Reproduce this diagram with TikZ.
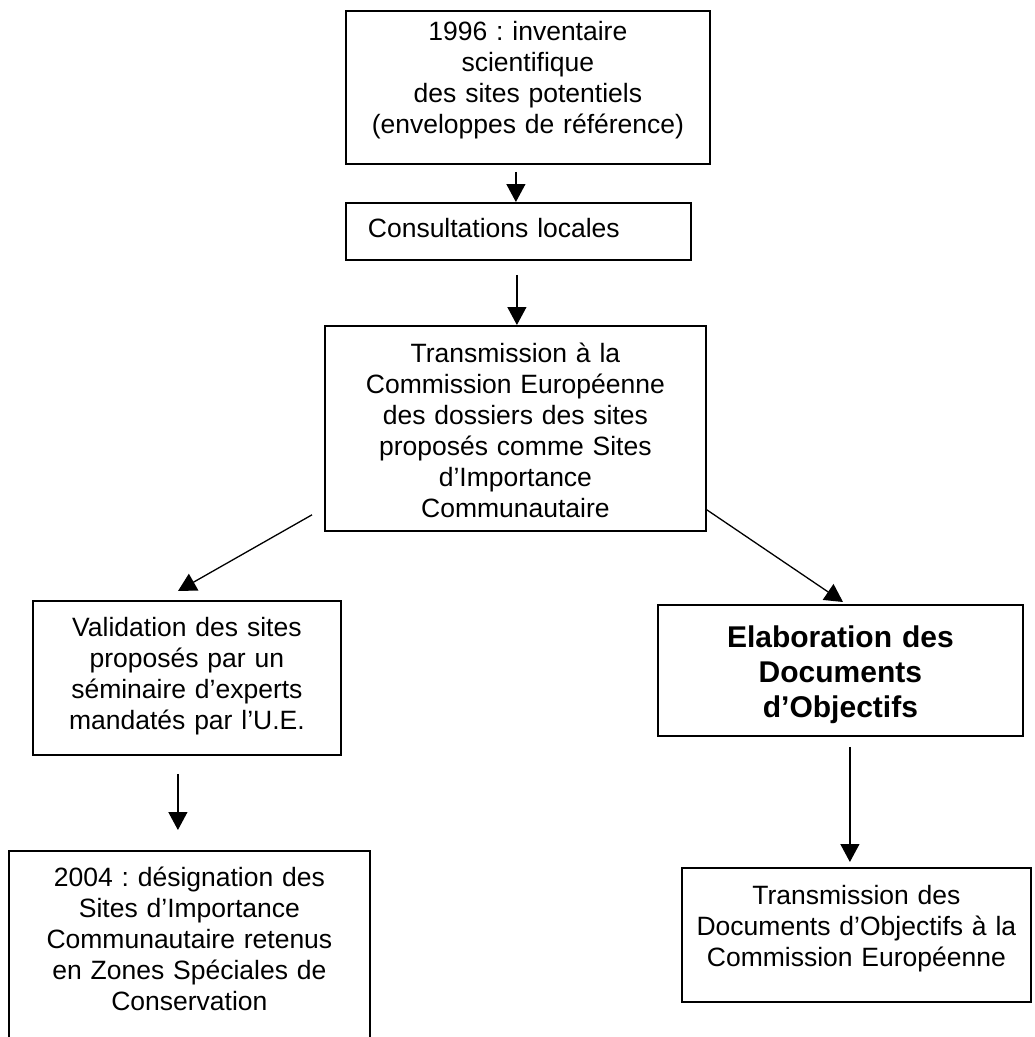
\documentclass[tikz,border=0pt]{standalone}
\usepackage{fontspec}
\setmainfont{Liberation Sans}
\usetikzlibrary{arrows.meta,calc}
\frenchspacing
\begin{document}
\begin{tikzpicture}[x=1pt,y=-1pt,
  box/.style={draw, line width=1.8pt, inner sep=0pt, anchor=north west, align=center,
    font=\fontsize{26.5}{31}\selectfont},
  boldbox/.style={box, font=\fontsize{30}{35}\selectfont\bfseries},
  arr/.style={line width=1.3pt, -{Triangle[length=18pt,width=19pt]}}]
\useasboundingbox (0,0) rectangle (1035,1037);
\fill[white] (0,0) rectangle (1035,1037);
\clip (0,0) rectangle (1035,1037);

\node[box, text width=364pt, text height=30pt, text depth=123pt] (b1) at (345,10)
  {1996 : inventaire\\ scientifique\\ des sites potentiels\\ (enveloppes de référence)};
\node[box, align=left, inner xsep=22pt, text width=301pt, text height=35pt, text depth=22pt] (b2) at (345,202)
  {Consultations locales};
\node[box, text width=381pt, text height=37pt, text depth=168pt] (b3) at (324,325)
  {Transmission à la\\ Commission Européenne\\ des dossiers des sites\\ proposés comme Sites\\ d’Importance\\ Communautaire};
\node[box, text width=308pt, text height=36pt, text depth=118pt] (b4) at (32,600)
  {Validation des sites\\ proposés par un\\ séminaire d’experts\\ mandatés par l’U.E.};
\node[boldbox, text width=365pt, text height=43pt, text depth=88pt] (b5) at (657,604)
  {Elaboration des\\ Documents\\ d’Objectifs};
\node[box, text width=361pt, text height=36pt, text depth=200pt] (b6) at (8,850)
  {2004 : désignation des\\ Sites d’Importance\\ Communautaire retenus\\ en Zones Spéciales de\\ Conservation};
\node[box, text width=349pt, text height=37pt, text depth=97pt] (b7) at (681,867)
  {Transmission des\\ Documents d’Objectifs à la\\ Commission Européenne};

\draw[arr] ($(b1.south)+(-12pt,-7pt)$) -- ($(b1.south |- b2.north)+(-12pt,0pt)$);
\draw[arr] ($(b2.south)+(-1.5pt,-14pt)$) -- ($(b2.south |- b3.north)+(-1.5pt,0pt)$);
\draw[arr] ($(b3.south west)+(-12pt,17pt)$) -- ($(b4.north west)+(146pt,9pt)$);
\draw[arr] ($(b3.south east)+(0pt,22pt)$) -- ($(b5.north west)+(186pt,2pt)$);
\draw[arr] ($(b4.south)+(-9pt,-18pt)$) -- ($(b4.south |- b6.north)+(-9pt,20pt)$);
\draw[arr] ($(b5.south)+(9.5pt,-10pt)$) -- ($(b5.south |- b7.north)+(9.5pt,5pt)$);
\end{tikzpicture}
\end{document}
